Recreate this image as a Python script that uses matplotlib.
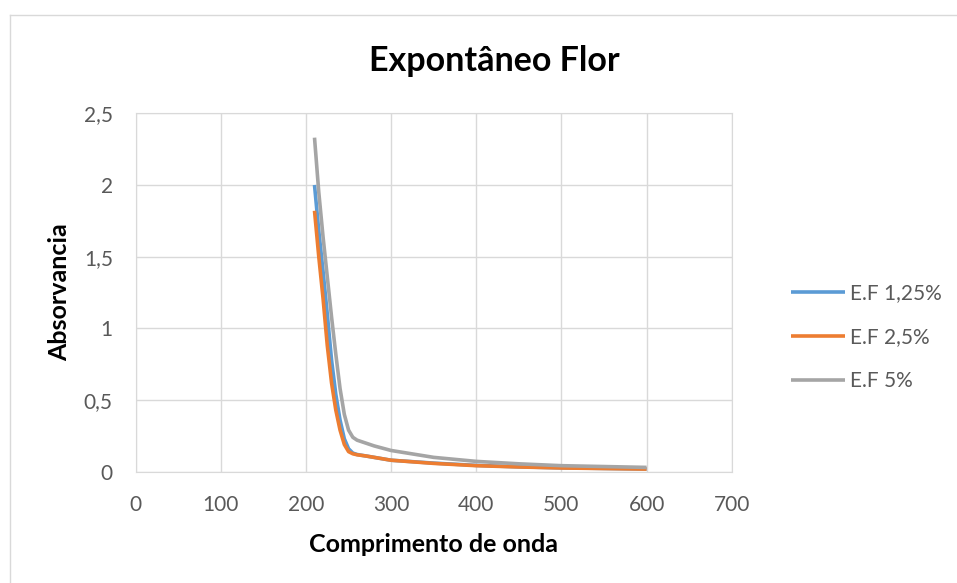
import matplotlib.pyplot as plt
import numpy as np
from matplotlib.lines import Line2D
from matplotlib.ticker import FuncFormatter

# wavelength (nm) and absorbance readings for the three extract concentrations
wavelength = [210, 215, 220, 225, 230, 235, 240, 245, 250, 255, 260, 270, 280, 300,
              350, 400, 450, 500, 550, 600]
ef_125 = [2.00, 1.68, 1.40, 1.10, 0.78, 0.54, 0.36, 0.23, 0.16, 0.13, 0.12, 0.11, 0.10, 0.08,
          0.06, 0.044, 0.034, 0.027, 0.023, 0.019]
ef_25 = [1.82, 1.50, 1.21, 0.88, 0.62, 0.43, 0.29, 0.19, 0.14, 0.125, 0.118, 0.11, 0.10, 0.08,
         0.058, 0.042, 0.033, 0.026, 0.022, 0.018]
ef_5 = [2.33, 1.95, 1.64, 1.36, 1.08, 0.82, 0.58, 0.40, 0.29, 0.24, 0.22, 0.20, 0.18, 0.148,
        0.10, 0.072, 0.055, 0.042, 0.036, 0.03]
labels = ["E.F 1,25%", "E.F 2,5%", "E.F 5%"]
colors = ["#5B9BD5", "#ED7D31", "#A5A5A5"]

plt.rcParams['font.family'] = ['Lato', 'DejaVu Sans']

fig = plt.figure(figsize=(9.57, 5.83), dpi=100)
ax = fig.add_axes([0.1418, 0.1909, 0.6228, 0.6148])

for ys, lab, c in zip([ef_125, ef_25, ef_5], labels, colors):
    ax.plot(wavelength, ys, color=c, lw=2.6, label=lab, solid_capstyle='butt')

ax.set_xlim(0, 700)
ax.set_ylim(0, 2.5)
ax.set_xticks(np.arange(0, 701, 100))
ax.set_yticks(np.arange(0, 2.51, 0.5))
ax.yaxis.set_major_formatter(FuncFormatter(lambda v, p: ('%g' % v).replace('.', ',')))
ax.grid(True, color='#d9d9d9', lw=1)
ax.set_axisbelow(True)
for s in ax.spines.values():
    s.set_color('#d9d9d9')
ax.tick_params(length=0, labelsize=15, labelcolor='#595959')
ax.tick_params(axis='y', pad=16.5)
ax.tick_params(axis='x', pad=17)

ax.set_xlabel("Comprimento de onda", fontsize=18, fontweight='bold', labelpad=13)
ax.set_ylabel("Absorvancia", fontsize=18, fontweight='bold', labelpad=9)
fig.text(0.517, 0.895, "Expontâneo Flor", ha='center', va='center',
         fontsize=24.5, fontweight='bold')

ax.legend(loc='center left', bbox_to_anchor=(1.0995, 0.376), frameon=False,
          fontsize=15, labelcolor='#595959', handlelength=2.6,
          handletextpad=0.25, labelspacing=1.15, borderpad=0, borderaxespad=0)

# outer chart border
fig.add_artist(Line2D([10 / 957, 10 / 957], [0, 1 - 15 / 583], color='#d9d9d9', lw=1))
fig.add_artist(Line2D([10 / 957, 1], [1 - 15 / 583, 1 - 15 / 583], color='#d9d9d9', lw=1))

fig.savefig("out.png", dpi=100)
